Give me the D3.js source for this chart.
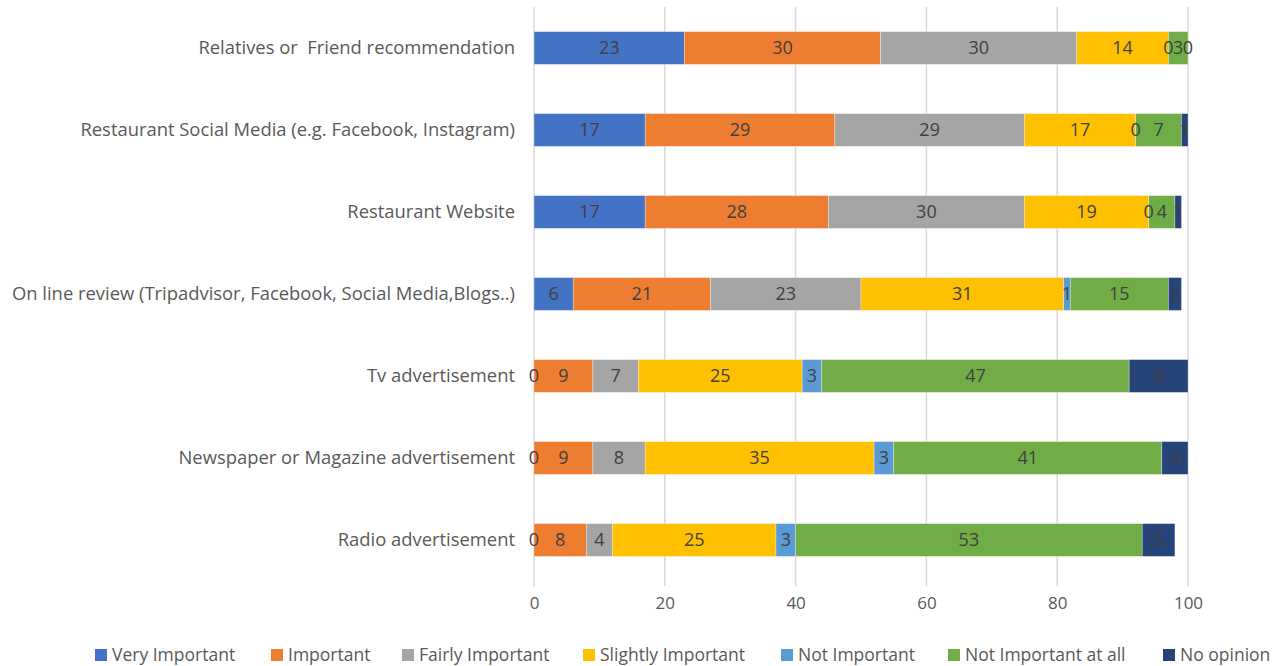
<!DOCTYPE html>
<html>
<head>
<meta charset="utf-8">
<script src="https://cdn.jsdelivr.net/npm/d3@7/dist/d3.min.js"></script>
<style>
  html, body { margin: 0; padding: 0; background: #fff; }
  svg { display: block; }
  text { font-family: "Open Sans", "Noto Sans", sans-serif; white-space: pre; }
</style>
</head>
<body>
<svg id="chart" width="1275" height="666"></svg>
<script>
// Information sources, top to bottom
const categories = [
  "Relatives or  Friend recommendation",
  "Restaurant Social Media (e.g. Facebook, Instagram)",
  "Restaurant Website",
  "On line review (Tripadvisor, Facebook, Social Media,Blogs..)",
  "Tv advertisement",
  "Newspaper or Magazine advertisement",
  "Radio advertisement"
];

const seriesNames = [
  "Very Important", "Important", "Fairly Important", "Slightly Important",
  "Not Important", "Not Important at all", "No opinion"
];

// One array per importance level, aligned with categories
const veryImportant     = [23, 17, 17, 6, 0, 0, 0];
const important         = [30, 29, 28, 21, 9, 9, 8];
const fairlyImportant   = [30, 29, 30, 23, 7, 8, 4];
const slightlyImportant = [14, 17, 19, 31, 25, 35, 25];
const notImportant      = [0, 0, 0, 1, 3, 3, 3];
const notImportantAtAll = [3, 7, 4, 15, 47, 41, 53];
const noOpinion         = [0, 1, 1, 2, 9, 4, 5];

const xTicks = [0, 20, 40, 60, 80, 100];

const colors = ["#4472C4", "#ED7D31", "#A5A5A5", "#FFC000", "#5B9BD5", "#70AD47", "#264478"];

const seriesValues = [veryImportant, important, fairlyImportant, slightlyImportant,
                      notImportant, notImportantAtAll, noOpinion];

const rows = categories.map((c, i) => {
  const r = { category: c };
  seriesNames.forEach((s, j) => { r[s] = seriesValues[j][i]; });
  return r;
});

const stacked = d3.stack().keys(seriesNames)(rows);

const svg = d3.select("#chart");
const x = d3.scaleLinear().domain([0, 100]).range([534, 1188]);
const y = d3.scaleBand().domain(categories).range([7, 581]).paddingInner(0.6).paddingOuter(0.3);

// Vertical gridlines
svg.append("g").selectAll("line").data(xTicks).join("line")
  .attr("x1", d => x(d)).attr("x2", d => x(d))
  .attr("y1", 7).attr("y2", 586)
  .attr("stroke", "#d9d9d9").attr("stroke-width", 1.5);

// X axis tick labels
const xAxis = d3.axisBottom(x).tickValues(xTicks).tickSize(0).tickPadding(0);
const gx = svg.append("g").attr("transform", "translate(0,597)").call(xAxis);
gx.select(".domain").remove();
gx.selectAll("text")
  .attr("font-size", 17).attr("fill", "#595959")
  .attr("font-family", "'Open Sans', sans-serif")
  .attr("dy", "0.71em");

// Category labels
const yAxis = d3.axisLeft(y).tickSize(0).tickPadding(0);
const gy = svg.append("g").attr("transform", "translate(515,0)").call(yAxis);
gy.select(".domain").remove();
gy.selectAll("text")
  .attr("font-size", 18.4).attr("fill", "#595959")
  .attr("font-family", "'Open Sans', sans-serif")
  .style("white-space", "pre");

// Stacked bars
const layers = svg.append("g").selectAll("g").data(stacked).join("g")
  .attr("fill", (d, i) => colors[i]);

layers.selectAll("rect").data(d => d).join("rect")
  .attr("x", d => x(d[0]))
  .attr("y", d => y(d.data.category))
  .attr("width", d => x(d[1]) - x(d[0]))
  .attr("height", y.bandwidth())
  .attr("stroke", "#ffffff").attr("stroke-opacity", 0.5).attr("stroke-width", 0.6);

// Value labels centred in each segment
const labels = svg.append("g").selectAll("g").data(stacked).join("g");
labels.selectAll("text").data(d => d).join("text")
  .attr("x", d => x((d[0] + d[1]) / 2))
  .attr("y", d => y(d.data.category) + y.bandwidth() / 2)
  .attr("dy", "0.35em")
  .attr("text-anchor", "middle")
  .attr("font-size", 18)
  .attr("fill", "#404040")
  .text(d => d[1] - d[0]);

// Legend
const legendX = [95, 271, 402, 583, 781, 948, 1163];
const legend = svg.append("g").selectAll("g").data(seriesNames).join("g")
  .attr("transform", (d, i) => `translate(${legendX[i]},655)`);
legend.append("rect")
  .attr("x", 0).attr("y", -6).attr("width", 12).attr("height", 12)
  .attr("fill", (d, i) => colors[i]);
legend.append("text")
  .attr("x", 17).attr("y", 0).attr("dy", "0.35em")
  .attr("font-size", 17.5).attr("fill", "#595959")
  .text(d => d);
</script>
</body>
</html>
